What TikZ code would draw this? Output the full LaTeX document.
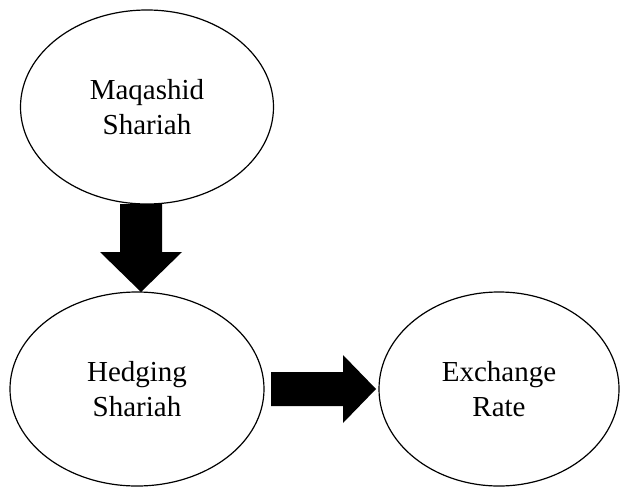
\documentclass[tikz,border=0pt]{standalone}
\usepackage{fontspec}
\setmainfont{Liberation Serif}
\usetikzlibrary{shapes.geometric}
\begin{document}
\begin{tikzpicture}[x=1pt,y=-1pt,
  oval/.style={draw=black, line width=1.2pt, ellipse, inner sep=0pt, align=center,
    font=\fontsize{29}{35}\selectfont},
  bigarrow/.style={fill=black, draw=none}]
\useasboundingbox (0,0) rectangle (620,487);
\node[oval, minimum width=253pt, minimum height=194pt] (maq) at (147,107) {Maqashid\\Shariah};
\node[oval, minimum width=254pt, minimum height=194pt] (hed) at (137,389) {Hedging\\Shariah};
\node[oval, minimum width=240pt, minimum height=194pt] (exr) at (499,389) {Exchange\\Rate};
% down arrow from maq to hed
\fill[bigarrow] (120,204) -- (162,204) -- (162,252) -- (182,252) -- (141,292)
  -- (100,252) -- (120,252) -- cycle;
% right arrow from hed to exr
\fill[bigarrow] (271,372) -- (343,372) -- (343,355) -- (376,389) -- (343,423)
  -- (343,406) -- (271,406) -- cycle;
\end{tikzpicture}
\end{document}
